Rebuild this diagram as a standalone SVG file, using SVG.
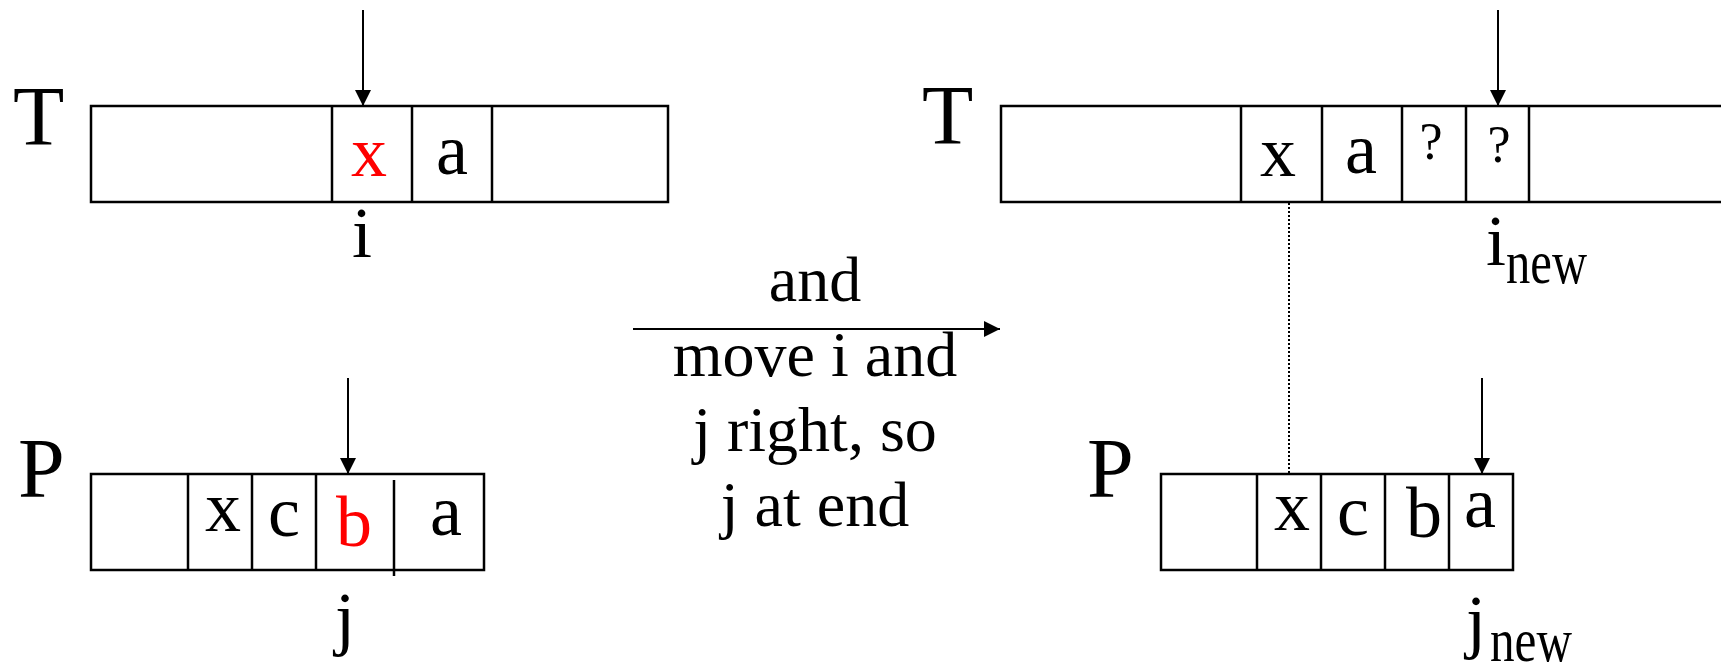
<svg xmlns="http://www.w3.org/2000/svg" width="1721" height="671" viewBox="0 0 1721 671">
<defs>
<style>
text{font-family:"Liberation Serif","Times New Roman",serif;fill:#000}
.big{font-size:84px}
.cell{font-size:72px;text-anchor:middle}
.q{font-size:52px;text-anchor:middle}
.mid{font-size:64px;text-anchor:middle}
.red{fill:#ff0000}
.box{fill:#fff;stroke:#000;stroke-width:2.5}
.div{stroke:#000;stroke-width:2.5}
.arr{stroke:#000;stroke-width:2;fill:none;marker-end:url(#ah)}
.dot{stroke:#000;stroke-width:2;stroke-dasharray:2 2}
</style>
<marker id="ah" viewBox="0 0 16 16" refX="16" refY="8" markerWidth="16" markerHeight="16" markerUnits="userSpaceOnUse" orient="auto">
<path d="M0,0 L16,8 L0,16 Z" fill="#000"/>
</marker>
</defs>
<rect width="1721" height="671" fill="#fff"/>

<g id="left-T">
<text class="big" x="13" y="145">T</text>
<rect class="box" x="91" y="106" width="577" height="96"/>
<line class="div" x1="332" y1="106" x2="332" y2="202"/>
<line class="div" x1="412" y1="106" x2="412" y2="202"/>
<line class="div" x1="492" y1="106" x2="492" y2="202"/>
<text class="cell red" x="369" y="176">x</text>
<text class="cell" x="452" y="174">a</text>
<text class="cell" x="362" y="257">i</text>
</g>

<g id="left-P">
<text class="big" x="18" y="497">P</text>
<rect class="box" x="91" y="474" width="393" height="96"/>
<line class="div" x1="188" y1="474" x2="188" y2="570"/>
<line class="div" x1="252" y1="474" x2="252" y2="570"/>
<line class="div" x1="316" y1="474" x2="316" y2="570"/>
<line class="div" x1="394" y1="480" x2="394" y2="576"/>
<text class="cell" x="223" y="531">x</text>
<text class="cell" x="284" y="536">c</text>
<text class="cell red" x="354" y="546">b</text>
<text class="cell" x="446" y="535">a</text>
<text class="cell" x="345" y="642">j</text>
</g>

<g id="right-T">
<text class="big" x="922" y="144">T</text>
<rect class="box" x="1001" y="106" width="740" height="96"/>
<line class="div" x1="1241" y1="106" x2="1241" y2="202"/>
<line class="div" x1="1322" y1="106" x2="1322" y2="202"/>
<line class="div" x1="1402" y1="106" x2="1402" y2="202"/>
<line class="div" x1="1466" y1="106" x2="1466" y2="202"/>
<line class="div" x1="1529" y1="106" x2="1529" y2="202"/>
<text class="cell" x="1278" y="176">x</text>
<text class="cell" x="1361" y="173">a</text>
<text class="q" x="1431" y="159">?</text>
<text class="q" x="1499" y="162">?</text>
<text class="cell" x="1496" y="265">i</text>
<text style="font-size:62px" x="1506" y="283" textLength="81" lengthAdjust="spacingAndGlyphs">new</text>
</g>

<g id="right-P">
<text class="big" x="1087" y="497">P</text>
<rect class="box" x="1161" y="474" width="352" height="96"/>
<line class="div" x1="1257" y1="474" x2="1257" y2="570"/>
<line class="div" x1="1321" y1="474" x2="1321" y2="570"/>
<line class="div" x1="1385" y1="474" x2="1385" y2="570"/>
<line class="div" x1="1449" y1="474" x2="1449" y2="570"/>
<text class="cell" x="1292" y="530">x</text>
<text class="cell" x="1353" y="535">c</text>
<text class="cell" x="1424" y="537">b</text>
<text class="cell" x="1480" y="527">a</text>
<text class="cell" x="1476" y="645">j</text>
<text style="font-size:62px" x="1490" y="661" textLength="82" lengthAdjust="spacingAndGlyphs">new</text>
</g>

<g id="label-middle">
<text class="mid" x="815" y="301">and</text>
<text class="mid" x="815" y="376">move i and</text>
<text class="mid" x="815" y="451">j right, so</text>
<text class="mid" x="815" y="526">j at end</text>
</g>

<g id="connectors">
<line class="arr" x1="363" y1="10" x2="363" y2="106"/>
<line class="arr" x1="1498" y1="10" x2="1498" y2="106"/>
<line class="arr" x1="348" y1="378" x2="348" y2="474"/>
<line class="arr" x1="1482" y1="378" x2="1482" y2="474"/>
<line class="arr" x1="633" y1="329" x2="1000" y2="329"/>
<line class="dot" x1="1289" y1="203" x2="1289" y2="474"/>
</g>
</svg>
